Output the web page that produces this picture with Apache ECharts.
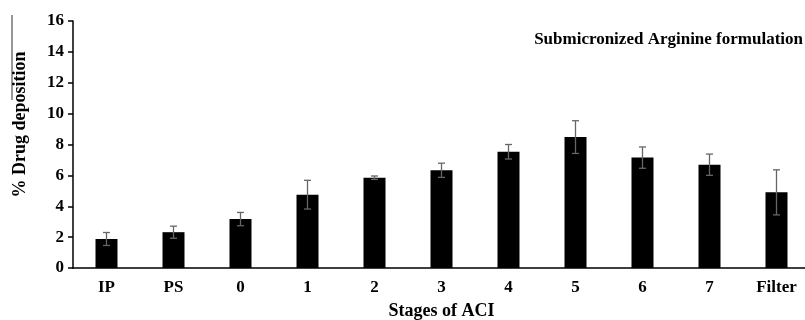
<!DOCTYPE html>
<html>
<head>
<meta charset="utf-8">
<script src="https://cdn.jsdelivr.net/npm/echarts@6/dist/echarts.min.js"></script>
<style>html,body{margin:0;padding:0;background:#fff}#c{width:805px;height:320px}</style>
</head>
<body>
<div id="c"></div>
<script>
const categories = ['IP','PS','0','1','2','3','4','5','6','7','Filter'];
const means = [1.88, 2.32, 3.17, 4.75, 5.85, 6.33, 7.53, 8.48, 7.15, 6.69, 4.90];
const errors = [0.42, 0.39, 0.43, 0.93, 0.11, 0.46, 0.47, 1.06, 0.69, 0.69, 1.46];
const yTicks = [0, 2, 4, 6, 8, 10, 12, 14, 16];

const FONT = '"Liberation Serif", "Times New Roman", serif';
const chart = echarts.init(document.getElementById('c'), null, {renderer: 'canvas'});
const errData = categories.map((c, i) => [i, means[i] - errors[i], means[i] + errors[i]]);

chart.setOption({
  animation: false,
  backgroundColor: '#fff',
  title: {
    text: 'Submicronized Arginine formulation',
    right: -3, top: 26,
    textStyle: {fontFamily: FONT, fontWeight: 'bold', fontSize: 17, color: '#000'}
  },
  grid: {left: 73, right: -5, top: 21, bottom: 52, containLabel: false, outerBoundsMode: 'none'},
  xAxis: {
    type: 'category',
    data: categories,
    axisLine: {lineStyle: {color: '#000', width: 1.5}},
    axisTick: {show: false},
    axisLabel: {fontFamily: FONT, fontWeight: 'bold', fontSize: 17, color: '#000', margin: 11},
    name: 'Stages of ACI',
    nameLocation: 'middle',
    nameGap: 34,
    nameTextStyle: {fontFamily: FONT, fontWeight: 'bold', fontSize: 18, color: '#000'}
  },
  yAxis: {
    type: 'value',
    min: yTicks[0], max: yTicks[yTicks.length - 1], interval: 2,
    axisLine: {show: true, lineStyle: {color: '#000', width: 1.5}},
    axisTick: {show: true, length: 5, lineStyle: {color: '#000', width: 1.5}},
    splitLine: {show: false},
    axisLabel: {fontFamily: FONT, fontWeight: 'bold', fontSize: 17, color: '#000', margin: 9},
    name: '% Drug deposition',
    nameLocation: 'middle',
    nameGap: 44,
    nameRotate: 90,
    nameTextStyle: {fontFamily: FONT, fontWeight: 'bold', fontSize: 18, color: '#000', padding: [0, 0, 0, 40]}
  },
  graphic: [{
    type: 'line', shape: {x1: 12, y1: 15, x2: 12, y2: 100},
    style: {stroke: '#333', lineWidth: 1}
  }],
  series: [{
    type: 'bar',
    data: means,
    barWidth: 22,
    itemStyle: {color: '#000'}
  }, {
    type: 'custom',
    data: errData,
    z: 10,
    renderItem: function (params, api) {
      const x = api.value(0);
      const lo = api.coord([x, api.value(1)]);
      const hi = api.coord([x, api.value(2)]);
      const hw = 3.5;
      const st = {stroke: '#666', lineWidth: 1.3};
      return {type: 'group', children: [
        {type: 'line', shape: {x1: lo[0], y1: lo[1], x2: hi[0], y2: hi[1]}, style: st},
        {type: 'line', shape: {x1: hi[0] - hw, y1: hi[1], x2: hi[0] + hw, y2: hi[1]}, style: st},
        {type: 'line', shape: {x1: lo[0] - hw, y1: lo[1], x2: lo[0] + hw, y2: lo[1]}, style: st}
      ]};
    }
  }]
});
</script>
</body>
</html>
